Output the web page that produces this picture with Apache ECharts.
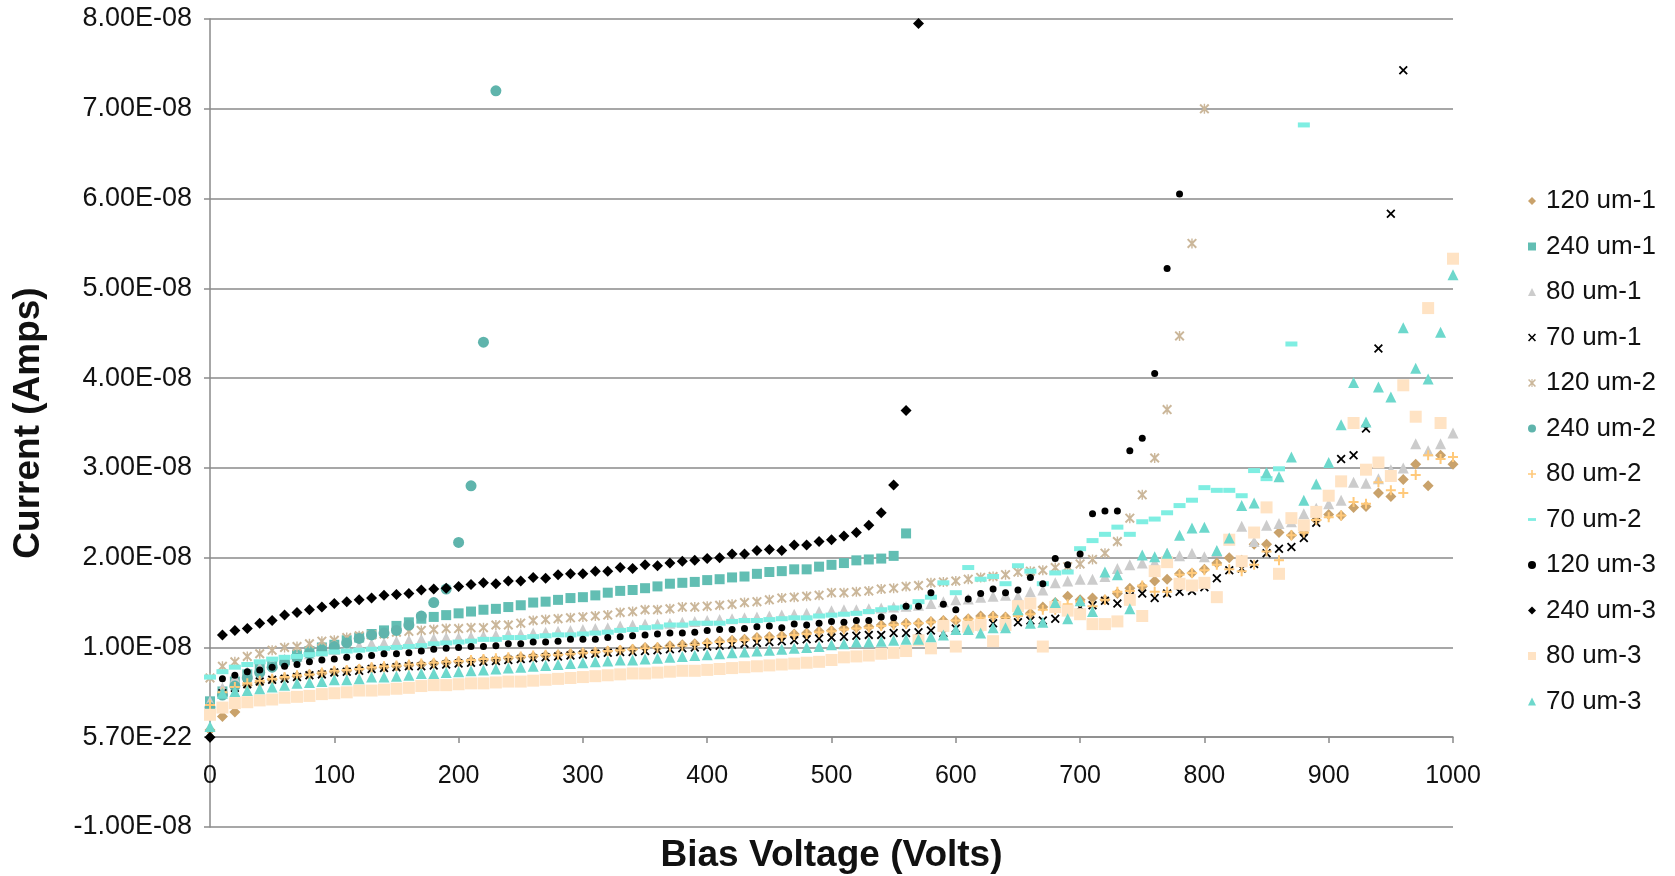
<!DOCTYPE html>
<html>
<head>
<meta charset="utf-8">
<title>Bias Voltage vs Current</title>
<script src="https://cdn.jsdelivr.net/npm/echarts@6/dist/echarts.min.js"></script>
<style>
  html, body { margin: 0; padding: 0; background: #ffffff; }
  #chart { width: 1675px; height: 876px; }
</style>
</head>
<body>
<div id="chart"></div>
<script>
// bias voltage (V), one reading every 10 V
const voltage = [
  0, 10, 20, 30, 40, 50, 60, 70, 80, 90,
  100, 110, 120, 130, 140, 150, 160, 170, 180, 190,
  200, 210, 220, 230, 240, 250, 260, 270, 280, 290,
  300, 310, 320, 330, 340, 350, 360, 370, 380, 390,
  400, 410, 420, 430, 440, 450, 460, 470, 480, 490,
  500, 510, 520, 530, 540, 550, 560, 570, 580, 590,
  600, 610, 620, 630, 640, 650, 660, 670, 680, 690,
  700, 710, 720, 730, 740, 750, 760, 770, 780, 790,
  800, 810, 820, 830, 840, 850, 860, 870, 880, 890,
  900, 910, 920, 930, 940, 950, 960, 970, 980, 990,
  1000
];

// currents, in units of 1E-08 A (series stop where the sensor broke down)
const um120_1 = [
  0.08, 0.23, 0.28, 0.58, 0.61, 0.64, 0.66, 0.68, 0.70, 0.71,
  0.73, 0.74, 0.76, 0.77, 0.78, 0.79, 0.80, 0.81, 0.82, 0.83,
  0.84, 0.85, 0.86, 0.86, 0.88, 0.89, 0.90, 0.91, 0.92, 0.93,
  0.94, 0.95, 0.96, 0.97, 0.98, 1.00, 1.00, 1.02, 1.03, 1.04,
  1.05, 1.07, 1.08, 1.09, 1.11, 1.12, 1.13, 1.15, 1.16, 1.18,
  1.19, 1.21, 1.22, 1.23, 1.25, 1.26, 1.27, 1.27, 1.29, 1.30,
  1.30, 1.32, 1.35, 1.35, 1.34, 1.37, 1.38, 1.45, 1.50, 1.57,
  1.53, 1.55, 1.53, 1.60, 1.66, 1.68, 1.74, 1.76, 1.82, 1.83,
  1.87, 1.94, 2.00, 1.97, 2.15, 2.15, 2.28, 2.25, 2.28, 2.42,
  2.48, 2.47, 2.56, 2.57, 2.72, 2.68, 2.87, 3.04, 2.80, 3.14,
  3.04
];
const um240_1 = [
  0.40, 0.51, 0.62, 0.70, 0.76, 0.81, 0.86, 0.92, 0.96, 1.00,
  1.03, 1.08, 1.11, 1.15, 1.19, 1.24, 1.28, 1.32, 1.34, 1.36,
  1.38, 1.40, 1.42, 1.43, 1.45, 1.47, 1.50, 1.51, 1.53, 1.55,
  1.56, 1.58, 1.61, 1.63, 1.64, 1.66, 1.68, 1.71, 1.72, 1.73,
  1.75, 1.76, 1.78, 1.79, 1.82, 1.84, 1.85, 1.87, 1.87, 1.90,
  1.92, 1.94, 1.97, 1.98, 1.99, 2.02, 2.27
];
const um80_1 = [
  0.40, 0.55, 0.66, 0.73, 0.78, 0.83, 0.87, 0.90, 0.93, 0.96,
  0.98, 1.00, 1.02, 1.04, 1.05, 1.07, 1.08, 1.09, 1.10, 1.11,
  1.11, 1.12, 1.13, 1.14, 1.15, 1.15, 1.16, 1.17, 1.18, 1.19,
  1.20, 1.21, 1.22, 1.24, 1.25, 1.26, 1.26, 1.27, 1.28, 1.29,
  1.30, 1.31, 1.32, 1.33, 1.34, 1.35, 1.36, 1.37, 1.38, 1.40,
  1.41, 1.42, 1.42, 1.43, 1.44, 1.45, 1.46, 1.47, 1.49, 1.51,
  1.53, 1.54, 1.56, 1.57, 1.58, 1.57, 1.62, 1.64, 1.72, 1.74,
  1.76, 1.76, 1.79, 1.88, 1.92, 1.94, 1.95, 2.05, 2.02, 2.05,
  2.01, 2.07, 2.20, 2.35, 2.18, 2.36, 2.38, 2.40, 2.49, 2.55,
  2.60, 2.64, 2.84, 2.83, 2.88, 2.98, 3.00, 3.27, 3.19, 3.27,
  3.39
];
const um70_1 = [
  0.30, 0.49, 0.55, 0.59, 0.62, 0.64, 0.65, 0.67, 0.69, 0.70,
  0.72, 0.73, 0.74, 0.76, 0.77, 0.78, 0.79, 0.79, 0.80, 0.81,
  0.82, 0.83, 0.84, 0.85, 0.86, 0.87, 0.88, 0.89, 0.90, 0.91,
  0.92, 0.93, 0.94, 0.95, 0.95, 0.96, 0.97, 0.98, 0.99, 1.00,
  1.01, 1.02, 1.03, 1.04, 1.05, 1.06, 1.07, 1.08, 1.09, 1.10,
  1.11, 1.12, 1.13, 1.14, 1.14, 1.16, 1.16, 1.17, 1.19, 1.16,
  1.21, 1.22, 1.23, 1.27, 1.29, 1.28, 1.30, 1.30, 1.32, 1.40,
  1.45, 1.47, 1.52, 1.49, 1.57, 1.60, 1.55, 1.60, 1.62, 1.63,
  1.67, 1.77, 1.86, 1.88, 1.93, 2.05, 2.10, 2.12, 2.22, 2.39,
  2.70, 3.10, 3.14, 3.44, 4.33, 5.83, 7.43
];
const um120_2 = [
  0.66, 0.79, 0.84, 0.90, 0.93, 0.97, 1.00, 1.01, 1.04, 1.07,
  1.08, 1.11, 1.13, 1.14, 1.15, 1.17, 1.18, 1.19, 1.20, 1.21,
  1.21, 1.22, 1.22, 1.25, 1.25, 1.27, 1.30, 1.31, 1.32, 1.33,
  1.34, 1.35, 1.36, 1.39, 1.40, 1.42, 1.42, 1.43, 1.45, 1.45,
  1.46, 1.47, 1.48, 1.50, 1.51, 1.53, 1.55, 1.56, 1.57, 1.58,
  1.61, 1.61, 1.62, 1.63, 1.65, 1.66, 1.68, 1.69, 1.72, 1.73,
  1.74, 1.76, 1.78, 1.79, 1.81, 1.84, 1.85, 1.86, 1.89, 1.90,
  1.93, 1.98, 2.05, 2.18, 2.44, 2.70, 3.11, 3.65, 4.47, 5.50,
  7.00
];
const um240_2 = [
  0.33, 0.47, 0.57, 0.66, 0.72, 0.78, 0.83, 0.88, 0.93, 0.97,
  1.01, 1.05, 1.10, 1.14, 1.16, 1.19, 1.25, 1.35, 1.50, 1.65,
  2.17, 2.80, 4.40, 7.20
];
const um80_2 = [
  0.36, 0.50, 0.56, 0.60, 0.63, 0.65, 0.67, 0.69, 0.70, 0.72,
  0.74, 0.75, 0.76, 0.78, 0.79, 0.80, 0.81, 0.82, 0.83, 0.84,
  0.85, 0.86, 0.87, 0.88, 0.89, 0.90, 0.91, 0.92, 0.92, 0.93,
  0.94, 0.95, 0.96, 0.97, 0.98, 0.99, 1.00, 1.01, 1.02, 1.03,
  1.05, 1.06, 1.07, 1.08, 1.10, 1.11, 1.12, 1.14, 1.15, 1.17,
  1.18, 1.20, 1.21, 1.22, 1.24, 1.25, 1.26, 1.27, 1.28, 1.29,
  1.30, 1.31, 1.33, 1.34, 1.33, 1.35, 1.37, 1.42, 1.42, 1.48,
  1.51, 1.46, 1.53, 1.62, 1.63, 1.69, 1.62, 1.62, 1.81, 1.83,
  1.86, 1.92, 1.87, 1.85, 1.92, 2.07, 1.97, 2.25, 2.28, 2.42,
  2.45, 2.47, 2.62, 2.60, 2.84, 2.75, 2.72, 2.92, 3.14, 3.10,
  3.12
];
const um70_2 = [
  0.67, 0.73, 0.78, 0.81, 0.84, 0.87, 0.89, 0.90, 0.92, 0.93,
  0.95, 0.96, 0.97, 0.98, 0.99, 1.00, 1.01, 1.02, 1.04, 1.05,
  1.06, 1.07, 1.09, 1.09, 1.11, 1.11, 1.12, 1.13, 1.14, 1.14,
  1.15, 1.16, 1.17, 1.19, 1.20, 1.22, 1.23, 1.25, 1.25, 1.27,
  1.27, 1.27, 1.29, 1.30, 1.30, 1.31, 1.32, 1.33, 1.33, 1.35,
  1.36, 1.37, 1.38, 1.40, 1.42, 1.44, 1.45, 1.51, 1.56, 1.72,
  1.61, 1.89, 1.76, 1.79, 1.71, 1.91, 1.85, 1.71, 1.83, 1.84,
  2.10, 2.19, 2.26, 2.34, 2.26, 2.40, 2.43, 2.50, 2.58, 2.64,
  2.78, 2.75, 2.75, 2.69, 2.97, 2.88, 2.99, 4.38, 6.82
];
const um120_3 = [
  0.00, 0.65, 0.69, 0.73, 0.75, 0.78, 0.79, 0.81, 0.84, 0.86,
  0.87, 0.89, 0.90, 0.91, 0.93, 0.93, 0.94, 0.96, 0.98, 0.99,
  1.00, 1.01, 1.01, 1.02, 1.04, 1.04, 1.06, 1.06, 1.07, 1.09,
  1.09, 1.09, 1.11, 1.12, 1.13, 1.14, 1.15, 1.16, 1.16, 1.17,
  1.19, 1.20, 1.20, 1.21, 1.23, 1.24, 1.22, 1.26, 1.25, 1.27,
  1.29, 1.28, 1.30, 1.30, 1.34, 1.33, 1.46, 1.46, 1.61, 1.48,
  1.42, 1.54, 1.60, 1.65, 1.61, 1.64, 1.78, 1.71, 1.99, 1.92,
  2.04, 2.49, 2.52, 2.52, 3.19, 3.33, 4.05, 5.22, 6.05
];
const um240_3 = [
  0.00, 1.14, 1.19, 1.21, 1.27, 1.30, 1.36, 1.39, 1.42, 1.45,
  1.49, 1.51, 1.53, 1.55, 1.58, 1.59, 1.60, 1.64, 1.65, 1.66,
  1.68, 1.70, 1.72, 1.71, 1.74, 1.74, 1.78, 1.77, 1.81, 1.82,
  1.82, 1.85, 1.85, 1.89, 1.88, 1.92, 1.91, 1.94, 1.96, 1.97,
  1.99, 2.00, 2.04, 2.04, 2.08, 2.09, 2.08, 2.14, 2.14, 2.18,
  2.20, 2.24, 2.28, 2.36, 2.50, 2.81, 3.64, 7.95
];
const um80_3 = [
  0.25, 0.33, 0.38, 0.39, 0.41, 0.42, 0.44, 0.45, 0.46, 0.48,
  0.49, 0.50, 0.52, 0.52, 0.53, 0.54, 0.55, 0.57, 0.58, 0.58,
  0.59, 0.60, 0.60, 0.61, 0.62, 0.62, 0.63, 0.64, 0.65, 0.66,
  0.67, 0.68, 0.69, 0.70, 0.71, 0.71, 0.72, 0.73, 0.74, 0.74,
  0.75, 0.76, 0.77, 0.78, 0.79, 0.80, 0.81, 0.82, 0.83, 0.84,
  0.86, 0.89, 0.90, 0.91, 0.93, 0.94, 0.96, 1.08, 0.99, 1.24,
  1.01, 1.23, 1.25, 1.07, 1.25, 1.46, 1.49, 1.01, 1.45, 1.41,
  1.37, 1.26, 1.26, 1.29, 1.53, 1.35, 1.85, 1.95, 1.71, 1.69,
  1.72, 1.56, 2.20, 1.96, 2.28, 2.56, 1.82, 2.44, 2.36, 2.51,
  2.69, 2.85, 3.50, 2.98, 3.06, 2.91, 3.92, 3.57, 4.78, 3.50,
  5.33
];
const um70_3 = [
  0.12, 0.49, 0.51, 0.52, 0.54, 0.56, 0.58, 0.60, 0.61, 0.62,
  0.64, 0.64, 0.65, 0.67, 0.67, 0.68, 0.69, 0.71, 0.71, 0.72,
  0.73, 0.74, 0.75, 0.76, 0.77, 0.78, 0.79, 0.80, 0.81, 0.82,
  0.83, 0.84, 0.85, 0.86, 0.86, 0.87, 0.88, 0.89, 0.90, 0.91,
  0.92, 0.93, 0.94, 0.95, 0.96, 0.97, 0.98, 0.99, 1.00, 1.01,
  1.03, 1.04, 1.06, 1.06, 1.07, 1.08, 1.09, 1.09, 1.12, 1.14,
  1.20, 1.20, 1.16, 1.22, 1.22, 1.42, 1.27, 1.28, 1.50, 1.32,
  1.52, 1.40, 1.84, 1.81, 1.43, 2.03, 2.01, 2.05, 2.25, 2.33,
  2.34, 2.08, 2.22, 2.58, 2.61, 2.95, 2.90, 3.12, 2.64, 2.82,
  3.06, 3.48, 3.95, 3.51, 3.90, 3.79, 4.56, 4.11, 3.99, 4.51,
  5.15
];

// y tick labels as printed on the original axis, from -1E-08 up to 8E-08
const yTickLabels = [
  '-1.00E-08', '5.70E-22', '1.00E-08', '2.00E-08', '3.00E-08',
  '4.00E-08', '5.00E-08', '6.00E-08', '7.00E-08', '8.00E-08'
];

const FONT = '"Liberation Sans", Arial, sans-serif';
const GRID_GRAY = '#8a8a8a';

// marker shapes
const X_PATH = 'path://M0,1.4 L1.4,0 L5,3.6 L8.6,0 L10,1.4 L6.4,5 L10,8.6 L8.6,10 L5,6.4 L1.4,10 L0,8.6 L3.6,5 Z';
const STAR_PATH = X_PATH + ' M4.3,0 L5.7,0 L5.7,10 L4.3,10 Z';
const PLUS_PATH = 'path://M4,0 L6,0 L6,4 L10,4 L10,6 L6,6 L6,10 L4,10 L4,6 L0,6 L0,4 L4,4 Z';
const DASH_PATH = 'path://M0,0 L10,0 L10,3.5 L0,3.5 Z';

const seriesDefs = [
  { name: '120 um-1', values: um120_1, symbol: 'diamond', size: 11, color: '#c9a26b' },
  { name: '240 um-1', values: um240_1, symbol: 'rect', size: 10, color: '#62beb3' },
  { name: '80 um-1', values: um80_1, symbol: 'triangle', size: 11, color: '#cccccc' },
  { name: '70 um-1', values: um70_1, symbol: X_PATH, size: 9, color: '#000000' },
  { name: '120 um-2', values: um120_2, symbol: STAR_PATH, size: 10, color: '#cbb79a' },
  { name: '240 um-2', values: um240_2, symbol: 'circle', size: 11, color: '#5fb4ac' },
  { name: '80 um-2', values: um80_2, symbol: PLUS_PATH, size: 10, color: '#ffc97a' },
  { name: '70 um-2', values: um70_2, symbol: 'rect', size: [12, 5], color: '#7feee2', legendIcon: DASH_PATH },
  { name: '120 um-3', values: um120_3, symbol: 'circle', size: 7, color: '#000000' },
  { name: '240 um-3', values: um240_3, symbol: 'diamond', size: 11, color: '#000000' },
  { name: '80 um-3', values: um80_3, symbol: 'rect', size: 12, color: '#ffe3c4' },
  { name: '70 um-3', values: um70_3, symbol: 'triangle', size: 11, color: '#6dd8cc' }
];

const chart = echarts.init(document.getElementById('chart'));

const axisText = { fontSize: 25, color: '#111' };

const option = {
  animation: false,
  backgroundColor: '#ffffff',
  textStyle: { fontFamily: FONT },
  grid: [
    // plotting grid
    { left: 210, right: 222, top: 19, bottom: 49, outerBoundsMode: 'none', containLabel: false },
    // same width, its bottom edge sits on the zero current line: carries the voltage axis
    { left: 210, right: 222, top: 19, bottom: 139, outerBoundsMode: 'none', containLabel: false }
  ],
  legend: {
    orient: 'vertical',
    left: 1523,
    top: 183,
    itemWidth: 8,
    itemHeight: 8,
    itemGap: 19.5,
    textStyle: { fontSize: 26, color: '#111', lineHeight: 26, padding: [0, 0, 0, 5] },
    data: seriesDefs.map(function (s) {
      return s.legendIcon ? { name: s.name, icon: s.legendIcon } : { name: s.name };
    })
  },
  xAxis: [
    {
      type: 'value', gridIndex: 0, min: 0, max: 1000, interval: 100,
      axisLine: { show: false }, axisTick: { show: false },
      axisLabel: { show: false }, splitLine: { show: false }
    },
    {
      type: 'value', gridIndex: 1, min: 0, max: 1000, interval: 100,
      name: 'Bias Voltage (Volts)',
      nameLocation: 'middle',
      nameGap: 100,
      nameTextStyle: { fontSize: 37, fontWeight: 'bold', color: '#111' },
      axisLine: { show: true, onZero: false, lineStyle: { color: GRID_GRAY, width: 1.5 } },
      axisTick: { show: true, length: 6, lineStyle: { color: GRID_GRAY, width: 1.5 } },
      axisLabel: Object.assign({ margin: 27, formatter: function (v) { return String(v); } }, axisText),
      splitLine: { show: false }
    }
  ],
  yAxis: [
    {
      type: 'value', gridIndex: 0, min: -1, max: 8, interval: 1,
      name: 'Current (Amps)',
      nameLocation: 'middle',
      nameGap: 163,
      nameTextStyle: { fontSize: 37, fontWeight: 'bold', color: '#111' },
      axisLine: { show: true, lineStyle: { color: GRID_GRAY, width: 1.5 } },
      axisTick: { show: true, length: 6, lineStyle: { color: GRID_GRAY, width: 1.5 } },
      axisLabel: {
        fontSize: 27,
        color: '#111',
        margin: 18,
        formatter: function (v) { return yTickLabels[Math.round(v) + 1]; }
      },
      splitLine: { show: true, lineStyle: { color: GRID_GRAY, width: 1.5 } }
    },
    {
      type: 'value', gridIndex: 1, min: 0, max: 8, show: false
    }
  ],
  series: seriesDefs.map(function (s) {
    return {
      name: s.name,
      type: 'scatter',
      xAxisIndex: 0,
      yAxisIndex: 0,
      symbol: s.symbol,
      symbolSize: s.size,
      itemStyle: { color: s.color, opacity: 1 },
      emphasis: { disabled: true },
      data: s.values.map(function (v, i) { return [voltage[i], v]; })
    };
  })
};

chart.setOption(option);
</script>
</body>
</html>
